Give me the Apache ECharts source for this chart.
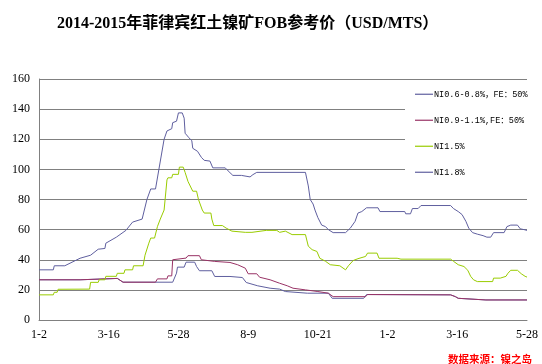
<!DOCTYPE html>
<html><head><meta charset="utf-8">
<script src="https://cdn.jsdelivr.net/npm/echarts@6/dist/echarts.min.js"></script>
<style>html,body{margin:0;padding:0;background:#fff}#c{width:542px;height:364px}</style>
</head><body><div id="c"></div>
<script>
// x values are days since 2014-01-02 (axis runs to 2015-05-28 = day 511)
const xTickLabels = ['1-2','3-16','5-28','8-9','10-21','1-2','3-16','5-28'];
const seriesNames = ['NI0.6-0.8%，FE：50%','NI0.9-1.1%,FE：50%','NI1.5%','NI1.8%'];

const s1Days = [0,43,44,82,88,140,144,145,152,154,163,165,168,181,184,200,202,213,217,229,242,252,258,281,303,307,340,343,431,436,439,468,511];
const s1Vals = [26.7,26.7,27.6,27.6,25.1,25.1,31.1,35.1,35.1,38.4,38.4,35.5,32.7,32.7,28.9,28.9,28.2,28.2,24.9,22.7,21.1,20.5,18.9,17.8,17.8,14.4,14.4,16.9,16.7,15.5,14.4,13.3,13.3];

const s2Days = [0,43,44,82,88,122,124,134,135,139,140,142,154,156,168,170,184,200,208,216,219,228,231,242,252,260,266,279,292,303,308,342,344,431,436,439,468,511];
const s2Vals = [26.7,26.7,27.6,27.6,25.1,25.1,27.3,27.3,29.3,29.3,40,41.1,41.1,42.7,42.7,40,38.9,38.2,36.7,34.4,30.7,30.7,28.4,26.7,24.4,22.7,21.1,20,18.9,17.8,15.5,15.5,16.9,16.7,15.5,14.4,13.3,13.3];

const s3Days = [0,15,16,19,20,53,54,62,63,69,70,81,82,89,90,98,99,109,111,115,117,121,124,127,131,134,135,139,140,146,147,151,153,156,161,165,167,171,173,180,181,183,192,196,202,216,223,238,249,252,258,265,279,282,286,291,294,300,305,315,321,324,329,334,342,344,354,356,375,379,431,434,439,445,449,452,455,459,475,476,483,484,489,491,494,501,505,509,511];
const s3Vals = [16.7,16.7,18.4,18.4,20.4,20.5,25,25,26.7,26.7,29,29,31,31,33.3,33.3,36,36,43,51,54.4,54.4,62,67,73,93,94.4,94.4,96.7,96.7,101.5,101.5,98,92,85.5,85.5,80,73,71,71,67,62.7,62.7,61,59,58.2,58.2,59.5,59.5,58.2,59,56.7,56.7,49,46.7,45.5,41,39,36.7,36,33.3,36,39.5,40.7,42.2,44.4,44.4,41,41,40.4,40.4,39,36.7,35.5,33,29,26.7,25.5,25.5,27.8,27.8,29,29,31,33,33,30.7,29,28.5];

const s4Days = [0,15,16,27,43,54,62,69,70,81,91,98,108,113,117,122,131,134,139,140,144,146,150,152,153,157,160,161,166,170,173,179,182,195,198,203,212,213,221,224,228,279,282,284,287,289,292,296,300,303,308,321,326,331,334,338,343,355,357,383,384,389,391,397,400,431,434,439,443,447,450,454,459,465,469,473,476,487,490,494,501,504,508,511];
const s4Vals = [33.3,33.3,36,36,41,43,47,47.5,51,55,59.5,65,67,80,87,87,120,125.5,127,131,132,137.5,137.5,134,124,121,119,114,112,108,106,105.5,101,101,99,96,96,95,95,96.5,98,98,89,80,77,73,68,63,62,60,58,58,61,65.5,71,72,74.5,74.5,72,72,70.5,70.5,74,74,76,76,74,72,70,65.5,61,58,57,56,55,55,58,58,62,63,63,60.5,60,59.5];

const colors = ['#5f5f9f','#993366','#99cc00','#5f5f9f'];
const allDays = [s1Days,s2Days,s3Days,s4Days];
const allVals = [s1Vals,s2Vals,s3Vals,s4Vals];

const chart = echarts.init(document.getElementById('c'), null, {renderer:'canvas'});
const font = 'Liberation Serif, Noto Sans CJK SC';
chart.setOption({
  animation:false,
  backgroundColor:'#fff',
  title:[
    {text:'2014-2015年菲律宾红土镍矿FOB参考价（USD/MTS）', left:52, top:11,
     textStyle:{fontFamily:font, fontSize:16, fontWeight:'bold', color:'#000'}},
    {text:'数据来源：镍之岛', left:443, top:349,
     textStyle:{fontFamily:'Noto Sans CJK SC', fontSize:10.5, fontWeight:'bold', color:'#ff0000'}}
  ],
  legend:{
    orient:'vertical', left:405, top:80, padding:[10,20,9,10], itemGap:17.5,
    backgroundColor:'#fff', icon:'rect', itemWidth:18, itemHeight:1.2,
    textStyle:{fontFamily:'Liberation Mono, Noto Sans CJK SC', fontSize:8.5, color:'#000', padding:[0,0,0,-4]},
    data:seriesNames
  },
  grid:{left:39, right:15, top:79, bottom:44, containLabel:false},
  xAxis:{
    type:'value', min:0, max:511, interval:73,
    axisLine:{show:true, lineStyle:{color:'#808080', width:1}},
    axisTick:{show:false}, splitLine:{show:false},
    axisLabel:{margin:9, fontFamily:font, fontSize:12, color:'#000',
      formatter:v=>xTickLabels[Math.round(v/73)]}
  },
  yAxis:{
    type:'value', min:0, max:160, interval:20,
    axisLine:{show:true, lineStyle:{color:'#808080', width:1}},
    axisTick:{show:false},
    splitLine:{show:true, lineStyle:{color:'#808080', width:1}},
    axisLabel:{margin:9, fontFamily:font, fontSize:12, color:'#000'}
  },
  series: seriesNames.map((n,i)=>({
    name:n, type:'line', showSymbol:false, symbol:'none',
    color:colors[i],
    lineStyle:{width:1, color:colors[i]},
    data: allDays[i].map((d,k)=>[d, allVals[i][k]])
  }))
});
</script></body></html>
